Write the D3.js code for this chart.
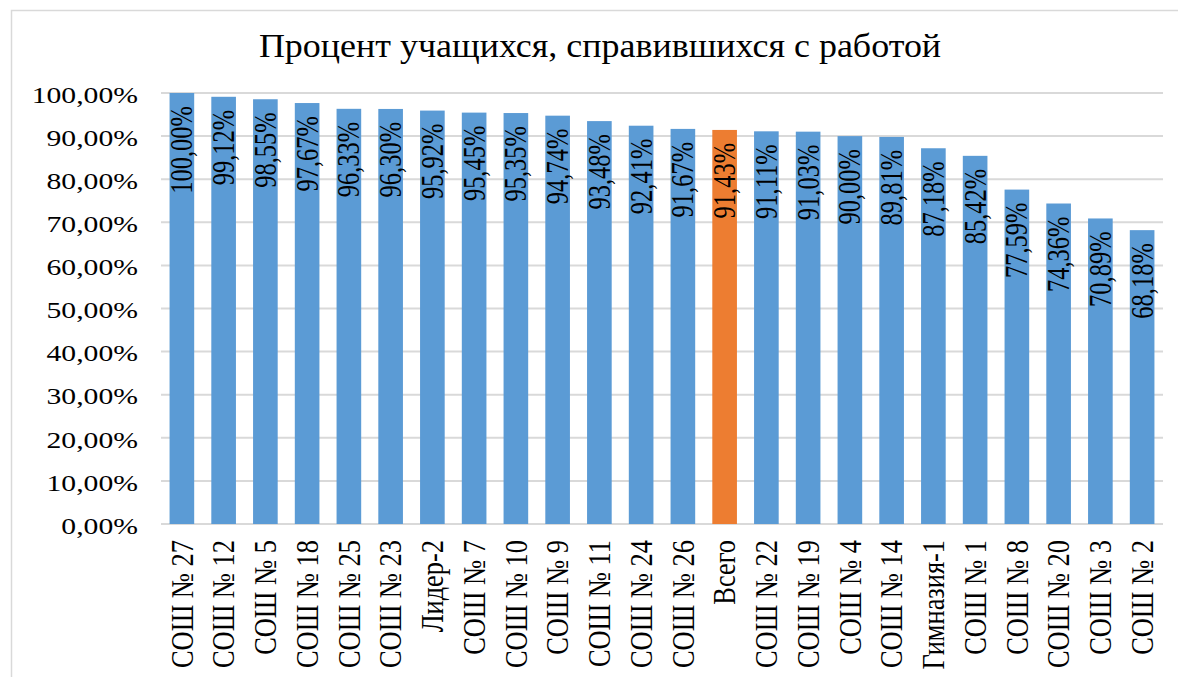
<!DOCTYPE html>
<html>
<head>
<meta charset="utf-8">
<script src="https://cdn.jsdelivr.net/npm/d3@7"></script>
<style>
  body { margin: 0; background: #fff; }
  svg text { font-family: "Liberation Serif", "Times New Roman", serif; fill: #000; }
</style>
</head>
<body>
<div id="chart"></div>
<script>
// data
const schools = ["СОШ № 27", "СОШ № 12", "СОШ № 5", "СОШ № 18", "СОШ № 25", "СОШ № 23",
  "Лидер-2", "СОШ № 7", "СОШ № 10", "СОШ № 9", "СОШ № 11", "СОШ № 24", "СОШ № 26",
  "Всего", "СОШ № 22", "СОШ № 19", "СОШ № 4", "СОШ № 14", "Гимназия-1", "СОШ № 1",
  "СОШ № 8", "СОШ № 20", "СОШ № 3", "СОШ № 2"];
const percents = [100.00, 99.12, 98.55, 97.67, 96.33, 96.30, 95.92, 95.45, 95.35, 94.74,
  93.48, 92.41, 91.67, 91.43, 91.11, 91.03, 90.00, 89.81, 87.18, 85.42, 77.59, 74.36, 70.89, 68.18];
const yTicks = [0, 10, 20, 30, 40, 50, 60, 70, 80, 90, 100];
const totalLabel = "Всего";

const W = 1178, H = 677;
const margin = {top: 93, left: 161};
const w = 1163 - margin.left, h = 524 - margin.top;
const serif = "'Liberation Serif', 'Times New Roman', serif";

const fmt = v => v.toFixed(2).replace(".", ",") + "%";

const svg = d3.select("#chart").append("svg")
  .attr("width", W).attr("height", H);

// outer frame
svg.append("rect")
  .attr("x", 11.5).attr("y", 10.5)
  .attr("width", 1180).attr("height", 700)
  .attr("fill", "none").attr("stroke", "#d9d9d9").attr("stroke-width", 1.5);

// the text in the picture is wider than it is tall, so stretch it a bit in x
svg.append("text")
  .attr("transform", "translate(600,57) scale(1.09,1)")
  .attr("text-anchor", "middle")
  .style("font-family", serif)
  .style("font-size", "33px")
  .text("Процент учащихся, справившихся с работой");

const g = svg.append("g").attr("transform", `translate(${margin.left},${margin.top})`);

const x = d3.scaleBand().domain(schools).range([0, w]).paddingInner(0.41).paddingOuter(0.205);
const y = d3.scaleLinear().domain([0, 100]).range([h, 0]);

// gridlines
g.selectAll(".grid").data(yTicks).enter().append("line")
  .attr("x1", 0).attr("x2", w)
  .attr("y1", d => y(d)).attr("y2", d => y(d))
  .attr("stroke", "#d9d9d9").attr("stroke-width", 2);

// y axis labels
const yAxis = g.append("g")
  .call(d3.axisLeft(y).tickValues(yTicks).tickSize(0).tickPadding(0).tickFormat(d => fmt(d)));
yAxis.attr("font-family", serif);
yAxis.select(".domain").remove();
yAxis.selectAll("text")
  .attr("x", 0).attr("dy", null)
  .attr("dominant-baseline", "central")
  .attr("transform", "translate(-23,2) scale(1.32,1)")
  .style("font-family", serif)
  .style("font-size", "22.5px").attr("fill", "#000");

const data = schools.map((s, i) => ({name: s, value: percents[i]}));

g.selectAll(".bar").data(data).enter().append("rect")
  .attr("x", d => x(d.name))
  .attr("y", d => y(d.value))
  .attr("width", x.bandwidth())
  .attr("height", d => h - y(d.value))
  .attr("fill", d => d.name === totalLabel ? "#ED7D31" : "#5B9BD5");

// value labels inside bar tops, rotated
g.selectAll(".lbl").data(data).enter().append("text")
  .attr("transform", d => `translate(${x(d.name) + x.bandwidth() / 2},${y(d.value) + 13}) scale(1.25,1) rotate(-90)`)
  .attr("text-anchor", "end")
  .attr("dominant-baseline", "central")
  .style("font-family", serif)
  .style("font-size", "24.5px")
  .text(d => fmt(d.value));

// category labels
const xAxis = g.append("g").attr("transform", `translate(0,${h})`)
  .call(d3.axisBottom(x).tickSize(0).tickPadding(0));
xAxis.attr("font-family", serif);
xAxis.select(".domain").remove();
xAxis.selectAll("text")
  .attr("transform", "translate(0,16) scale(1.2,1) rotate(-90)")
  .attr("y", 0).attr("dy", null)
  .attr("dominant-baseline", "central")
  .attr("text-anchor", "end")
  .style("font-family", serif)
  .style("font-size", "26.4px").attr("fill", "#000");
</script>
</body>
</html>
